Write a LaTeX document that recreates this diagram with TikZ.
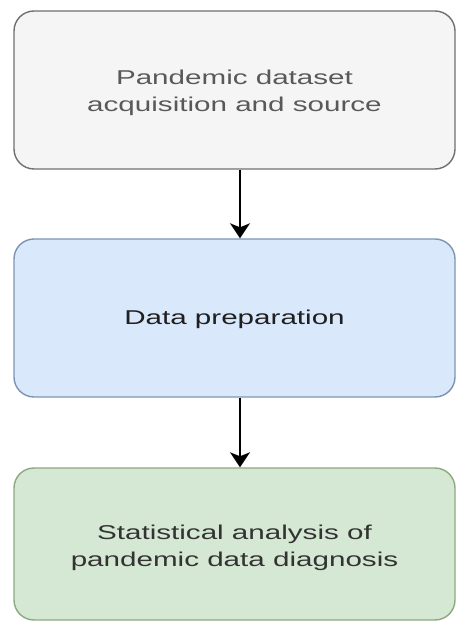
\documentclass[tikz,border=0pt]{standalone}
\usepackage{fontspec}
\usepackage{xcolor}
\usepackage{tikz}
\usetikzlibrary{arrows.meta}
\newfontfamily\boxfont{Liberation Sans}[FakeStretch=1.48]
\definecolor{grayfill}{HTML}{F5F5F5}
\definecolor{graydraw}{HTML}{707070}
\definecolor{bluefill}{HTML}{DAE8FC}
\definecolor{bluedraw}{HTML}{7D93B3}
\definecolor{greenfill}{HTML}{D5E8D4}
\definecolor{greendraw}{HTML}{8DA882}
\begin{document}
\begin{tikzpicture}[x=1pt, y=1pt,
  stage/.style={draw, line width=1.4pt, rounded corners=20pt, minimum width=441pt,
    align=center, font=\boxfont\fontsize{20}{27}\selectfont},
  flow/.style={line width=1.6pt, -{Stealth[length=15pt, width=20pt, inset=4pt]}}]
  \useasboundingbox (0,0) rectangle (456,621);
  \node[stage, fill=grayfill, draw=graydraw, text=black!65, minimum height=158pt,
    text height=47pt, text depth=4pt] (acq) at (234.5,531)
    {Pandemic dataset\\acquisition and source};
  \node[stage, fill=bluefill, draw=bluedraw, text=black!88, minimum height=158pt,
    text depth=1pt] (prep) at (234.5,303)
    {Data preparation};
  \node[stage, fill=greenfill, draw=greendraw, text=black!80, minimum height=152pt,
    text height=49pt, text depth=4pt] (stat) at (234.5,77)
    {Statistical analysis of\\pandemic data diagnosis};
  \draw[flow] (240,0 |- acq.south) -- (240,0 |- prep.north);
  \draw[flow] (240,0 |- prep.south) -- (240,0 |- stat.north);
\end{tikzpicture}
\end{document}
